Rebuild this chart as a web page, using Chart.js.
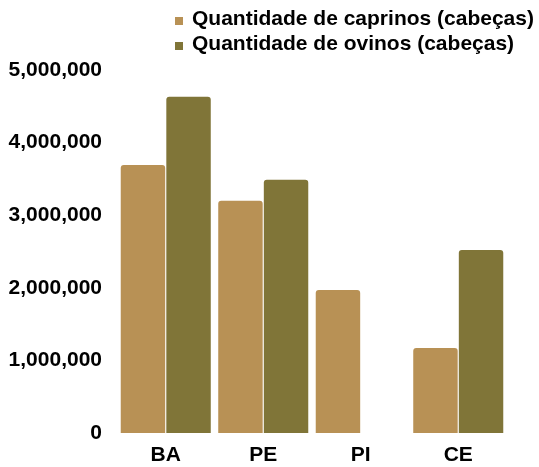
<!DOCTYPE html>
<html>
<head>
<meta charset="utf-8">
<script src="https://cdn.jsdelivr.net/npm/chart.js@4/dist/chart.umd.min.js"></script>
<style>
  html, body { margin: 0; padding: 0; background: #fff; }
  #wrap { width: 539px; height: 467px; }
</style>
</head>
<body>
<div id="wrap"><canvas id="chart"></canvas></div>
<script>
const estados = ['BA', 'PE', 'PI', 'CE'];
const caprinos = [3690000, 3200000, 1970000, 1170000];
const ovinos = [4630000, 3490000, null, 2520000];
const yTicks = [0, 1000000, 2000000, 3000000, 4000000, 5000000];

const FONT = "'Liberation Sans', Arial, sans-serif";

// legend drawn by hand: two stacked lines, left aligned
const stackedLegend = {
    id: 'stackedLegend',
    afterDraw(chart) {
        const ctx = chart.ctx;
        ctx.save();
        ctx.font = 'bold 21px ' + FONT;
        ctx.textBaseline = 'alphabetic';
        ctx.textAlign = 'left';
        chart.data.datasets.forEach((ds, i) => {
            const base = 25 + i * 25;
            ctx.fillStyle = ds.backgroundColor;
            ctx.fillRect(175, base - 8, 8, 8);
            ctx.fillStyle = '#000';
            ctx.fillText(ds.label, 192, base);
        });
        ctx.restore();
    }
};

new Chart(document.getElementById('chart'), {
    type: 'bar',
    data: {
        labels: estados,
        datasets: [
            {
                label: 'Quantidade de caprinos (cabeças)',
                data: caprinos,
                backgroundColor: '#B89155',
                borderRadius: 3,
                borderSkipped: 'bottom'
            },
            {
                label: 'Quantidade de ovinos (cabeças)',
                data: ovinos,
                backgroundColor: '#807538',
                borderRadius: 3,
                borderSkipped: 'bottom'
            }
        ]
    },
    options: {
        responsive: true,
        maintainAspectRatio: false,
        animation: false,
        categoryPercentage: 0.935,
        barPercentage: 0.975,
        layout: { padding: { top: 70, right: 32, bottom: 0, left: 0 } },
        plugins: {
            legend: { display: false },
            tooltip: { enabled: false }
        },
        scales: {
            x: {
                afterFit: (scale) => { scale.height = 34; },
                grid: { display: false, drawTicks: false },
                border: { display: false },
                ticks: {
                    padding: 10,
                    color: '#000',
                    font: { family: FONT, size: 21, weight: 'bold' }
                }
            },
            y: {
                min: 0,
                max: 5000000,
                afterFit: (scale) => { scale.width = 117; },
                afterBuildTicks: (scale) => { scale.ticks = yTicks.map(v => ({ value: v })); },
                grid: { display: false, drawTicks: false },
                border: { display: false },
                ticks: {
                    padding: 15,
                    color: '#000',
                    font: { family: FONT, size: 21, weight: 'bold' },
                    callback: (v) => v.toLocaleString('en-US')
                }
            }
        }
    },
    plugins: [stackedLegend]
});
</script>
</body>
</html>
